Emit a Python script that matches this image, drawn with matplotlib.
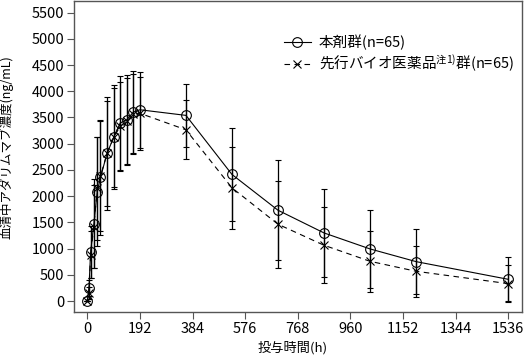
import matplotlib
matplotlib.use("Agg")
import matplotlib.pyplot as plt
from matplotlib.lines import Line2D
import numpy as np

plt.rcParams['font.family'] = ['Noto Sans CJK JP', 'DejaVu Sans']
plt.rcParams['mathtext.fontset'] = 'custom'
plt.rcParams['mathtext.rm'] = 'Noto Sans CJK JP'
plt.rcParams['mathtext.it'] = 'Noto Sans CJK JP'

time_h = [0, 6, 12, 24, 36, 48, 72, 96, 120, 144, 168, 192, 360, 528, 696, 864, 1032, 1200, 1536]
test_mean = [0, 248, 930, 1477, 2082, 2356, 2814, 3120, 3393, 3457, 3603, 3647, 3540, 2413, 1731, 1298, 993, 751, 414]
test_sd = [0, 150, 500, 850, 1040, 1090, 1070, 990, 890, 860, 780, 720, 605, 885, 955, 840, 738, 617, 420]
ref_mean = [0, 150, 880, 1420, 2150, 2380, 2814, 3120, 3330, 3430, 3560, 3580, 3265, 2158, 1464, 1063, 757, 567, 331]
ref_sd = [0, 120, 450, 800, 980, 1050, 1000, 950, 850, 820, 760, 700, 560, 783, 827, 726, 586, 484, 350]

label_test = '本剤群(n=65)'
label_ref = '先行バイオ医薬品$^{\\mathrm{注1)}}$群(n=65)'
xticks = [0, 192, 384, 576, 768, 960, 1152, 1344, 1536]
yticks = list(range(0, 5501, 500))

fig = plt.figure(figsize=(5.25, 3.57), dpi=100)
ax = fig.add_axes([0.141, 0.126, 0.853, 0.871])

test_style = dict(color='black', lw=0.8, ls='-', marker='o', mfc='none', mec='black', ms=7, mew=0.8)
ref_style = dict(color='black', lw=0.8, ls=(0, (5, 4)), marker='x', mfc='none', mec='black', ms=6, mew=0.8)

ax.errorbar(time_h, test_mean, yerr=test_sd, ecolor='black', elinewidth=0.9,
            capsize=2.2, capthick=0.7, **test_style)
ax.errorbar(time_h, ref_mean, yerr=ref_sd, ecolor='black', elinewidth=0.9,
            capsize=2.2, capthick=0.7, **ref_style)

ax.set_xlim(-48.5, 1586)
ax.set_ylim(-210, 5720)
ax.set_xticks(xticks)
ax.set_yticks(yticks)
ax.tick_params(direction='out', length=5, width=0.8, color='#555555', labelsize=10.5, pad=2)
for s in ax.spines.values():
    s.set_color('#555555')
    s.set_linewidth(1.0)

ax.set_xlabel('投与時間(h)', fontsize=9.5)
ax.xaxis.set_label_coords(0.489, -0.095)
ax.set_ylabel('血清中アダリムマブ濃度(ng/mL)', fontsize=9)
ax.yaxis.set_label_coords(-0.136, 0.529)

handles = [Line2D([], [], **test_style), Line2D([], [], **ref_style)]
ax.legend(handles, [label_test, label_ref], loc='upper left',
          bbox_to_anchor=(0.468, 0.893), frameon=False,
          fontsize=10.5, handlelength=1.9, handletextpad=0.5,
          labelspacing=0.2, borderpad=0, borderaxespad=0)

fig.savefig('out.png', dpi=100)
